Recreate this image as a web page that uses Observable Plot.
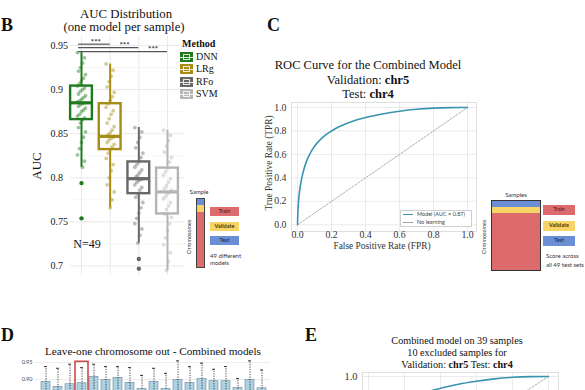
<!DOCTYPE html>
<html><head><meta charset="utf-8">
<script src="https://cdn.jsdelivr.net/npm/d3@7"></script>
<script src="https://cdn.jsdelivr.net/npm/@observablehq/plot@0.6"></script>
<style>
html,body{margin:0;padding:0;background:#fff;}
#root{position:relative;width:585px;height:390px;overflow:hidden;background:#fff;font-family:"Liberation Serif",serif;}
#root svg{position:absolute;left:0;top:0;background:transparent !important;overflow:hidden;}
.t{position:absolute;white-space:nowrap;line-height:1;}
.b{position:absolute;box-sizing:border-box;}
</style></head><body><div id="root"></div>
<script>
// ---------------- Panel B data ----------------
const methods = ["DNN","LRg","RFo","SVM"];
const methodColors = ["#1f7a1f","#a68c12","#686868","#b5b5b5"];
const boxLow = [0.812,0.766,0.726,0.695];
const boxQ1 = [0.866,0.832,0.782,0.759];
const boxMed = [0.885,0.847,0.799,0.784];
const boxQ3 = [0.904,0.884,0.818,0.811];
const boxHigh = [0.942,0.929,0.857,0.854];
const aucDNN = [0.942,0.936,0.93,0.925,0.921,0.917,0.913,0.91,0.907,0.904,0.902,0.9,0.898,0.895,0.893,0.891,0.889,0.887,0.886,0.885,0.884,0.883,0.881,0.879,0.877,0.875,0.872,0.87,0.868,0.866,0.862,0.857,0.852,0.846,0.84,0.833,0.826,0.819,0.812];
const aucLRg = [0.929,0.922,0.915,0.909,0.903,0.897,0.892,0.888,0.884,0.88,0.876,0.872,0.867,0.862,0.858,0.854,0.851,0.849,0.847,0.846,0.845,0.843,0.84,0.838,0.835,0.832,0.828,0.822,0.815,0.808,0.8,0.792,0.784,0.775,0.766];
const aucRFo = [0.857,0.852,0.846,0.84,0.834,0.828,0.823,0.818,0.815,0.812,0.809,0.806,0.803,0.801,0.799,0.798,0.797,0.795,0.792,0.789,0.786,0.782,0.778,0.772,0.766,0.76,0.754,0.748,0.742,0.735,0.726];
const aucSVM = [0.854,0.848,0.842,0.836,0.829,0.823,0.818,0.811,0.807,0.803,0.799,0.795,0.791,0.788,0.786,0.784,0.782,0.779,0.776,0.772,0.768,0.764,0.759,0.755,0.748,0.74,0.732,0.724,0.715,0.705,0.695];
const outlierMethod = ["DNN","DNN","RFo","RFo"];
const outlierAUC = [0.794,0.754,0.708,0.697];
const bTicks = [0.7,0.75,0.8,0.85,0.9,0.95];
const bMinor = [0.725,0.775,0.825,0.875,0.925];
const sigFrom = "DNN";
const sigTo = ["LRg","RFo","SVM"];
const sigY = [0.9515,0.9477,0.943];
const sigLabelPos = [1.5,2.5,3.5];
const sigLabel = ["***","***","***"];

// ---------------- Panel C / E data ----------------
const rocFPR = [0,0.002,0.005,0.01,0.02,0.03,0.05,0.075,0.1,0.13,0.16,0.2,0.25,0.3,0.35,0.4,0.5,0.6,0.7,0.8,0.9,1.0];
const rocTPR = [0,0.1,0.18,0.26,0.36,0.43,0.53,0.61,0.67,0.72,0.76,0.8,0.84,0.87,0.895,0.915,0.945,0.968,0.985,0.995,0.999,1.0];
const rocTPR_E = [0,0.09,0.16,0.24,0.33,0.4,0.5,0.58,0.64,0.69,0.74,0.78,0.82,0.855,0.88,0.9,0.935,0.96,0.98,0.993,0.999,1.0];
const noLearnX = [0,1];
const noLearnY = [0,1];
const rocTicks = [0,0.2,0.4,0.6,0.8,1.0];
const rocTicksShownE = [1.0];

// ---------------- Panel D data ----------------
const looChr = ["chr1","chr2","chr3","chr4","chr5","chr6","chr7","chr8","chr9","chr10","chr11","chr12","chr13","chr14","chr15","chr16","chr17","chr18","chr19"];
const looMean = [0.893,0.878,0.886,0.889,0.908,0.898,0.905,0.89,0.872,0.893,0.872,0.898,0.89,0.901,0.895,0.895,0.875,0.898,0.874];
const looTop  = [0.938,0.933,0.945,0.935,0.945,0.938,0.938,0.935,0.912,0.933,0.918,0.955,0.938,0.948,0.93,0.938,0.903,0.955,0.928];
const looLow  = [0.84,0.83,0.835,0.84,0.85,0.845,0.85,0.835,0.82,0.84,0.82,0.845,0.835,0.85,0.84,0.84,0.82,0.845,0.82];
const looHighlight = "chr4";
const looHighlightTop = 0.952;
const looTicks = [0.90,0.95];

// ---------------- build tables ----------------
const boxes = methods.map((m,k)=>({method:m,i:k+1,lo:boxLow[k],q1:boxQ1[k],med:boxMed[k],q3:boxQ3[k],hi:boxHigh[k]}));
const pts = [aucDNN,aucLRg,aucRFo,aucSVM].flatMap((arr,k)=>arr.map((v,j)=>({method:methods[k],i:k+1,j,auc:v})));
const outs = outlierAUC.map((v,k)=>({method:outlierMethod[k],i:methods.indexOf(outlierMethod[k])+1,auc:v}));
const sig = sigTo.map((m,k)=>({from:methods.indexOf(sigFrom)+1,to:methods.indexOf(m)+1,y:sigY[k],mid:sigLabelPos[k],label:sigLabel[k]}));
const roc = rocFPR.map((x,k)=>({x,y:rocTPR[k]}));
const rocE = rocFPR.map((x,k)=>({x,y:rocTPR_E[k]}));
const diag = noLearnX.map((x,k)=>({x,y:noLearnY[k]}));
const loo = looChr.map((c,k)=>({chr:c,mean:looMean[k],top:looTop[k],low:looLow[k]}));

const root = document.getElementById("root");
const SERIF = "'Liberation Serif', serif";
const SANS = "Lato, 'Open Sans', sans-serif";

// ---------------- Panel B plot ----------------
const plotB = Plot.plot({
  width:585,height:390,marginLeft:70,marginRight:400,marginTop:36,marginBottom:115,
  x:{domain:[1,4],range:[81,167],axis:null},
  y:{domain:[0.7,0.95],range:[265.5,45],axis:null},
  color:{domain:methods,range:methodColors},
  style:{fontFamily:SERIF,background:"transparent"},
  marks:[
    Plot.ruleY(bMinor,{stroke:"#f4f4f4",strokeWidth:0.8}),
    Plot.ruleY(bTicks,{stroke:"#e9e9e9",strokeWidth:1}),
    Plot.ruleX(boxes,{x:"i",stroke:"#e9e9e9",strokeWidth:1}),
    Plot.ruleX(boxes,{x:"i",y1:"lo",y2:"q1",stroke:"method",strokeWidth:2}),
    Plot.ruleX(boxes,{x:"i",y1:"q3",y2:"hi",stroke:"method",strokeWidth:2}),
    Plot.rect(boxes,{x1:d=>d.i-0.38,x2:d=>d.i+0.38,y1:"q1",y2:"q3",fill:"white",fillOpacity:0.6,stroke:"method",strokeWidth:2.4}),
    Plot.dot(pts,{x:d=>d.i+(((d.j*7)%9)-4)*0.035,y:"auc",fill:"method",r:1.9,fillOpacity:0.45,stroke:null}),
    Plot.ruleY(boxes,{y:"med",x1:d=>d.i-0.38,x2:d=>d.i+0.38,stroke:"method",strokeWidth:3.2}),
    Plot.dot(outs,{x:"i",y:"auc",fill:"method",r:2.2}),
    Plot.ruleY(sig,{y:"y",x1:d=>d.from-0.1,x2:"to",stroke:"#555",strokeWidth:1.2}),
    Plot.text(sig,{x:"mid",y:"y",text:"label",dy:-2,fontSize:8,fontWeight:"bold",fill:"#333",fontFamily:SANS}),
    Plot.text(bTicks,{y:d=>d,text:d=>String(d),frameAnchor:"left",textAnchor:"start",dx:-20,fontSize:10,fill:"#222",fontFamily:SERIF})
  ]
});
root.appendChild(plotB);

// ---------------- Panel C plot ----------------
const plotC = Plot.plot({
  width:585,height:390,marginLeft:291,marginRight:109,marginTop:102,marginBottom:159,
  x:{domain:[0,1],range:[297,467],axis:null},
  y:{domain:[0,1],range:[224.3,107],axis:null},
  style:{fontFamily:SERIF,background:"transparent"},
  marks:[
    Plot.ruleX(rocTicks,{stroke:"#e6e6e6",strokeWidth:0.8}),
    Plot.ruleY(rocTicks,{stroke:"#e6e6e6",strokeWidth:0.8}),
    Plot.frame({stroke:"#d8d8d8",strokeWidth:0.8}),
    Plot.line(diag,{x:"x",y:"y",stroke:"#9a9a9a",strokeWidth:0.8,strokeDasharray:"2,1.5"}),
    Plot.line(roc,{x:"x",y:"y",stroke:"#3a93b0",strokeWidth:1.6,curve:"monotone-x"}),
    Plot.text(rocTicks,{x:d=>d,text:d=>d.toFixed(1),frameAnchor:"bottom",dy:6,fontSize:9.8,fill:"#333",fontFamily:SERIF}),
    Plot.text(rocTicks,{y:d=>d,text:d=>d.toFixed(1),frameAnchor:"left",textAnchor:"end",dx:-5,fontSize:9.8,fill:"#333",fontFamily:SERIF})
  ]
});
root.appendChild(plotC);

// ---------------- Panel D plot ----------------
const plotD = Plot.plot({
  width:585,height:520,marginLeft:35,marginRight:315,marginTop:359,marginBottom:20,
  x:{type:"band",domain:looChr,range:[36,270],paddingInner:0.25,paddingOuter:0.1,axis:null},
  y:{domain:[0.6,0.95],range:[481,362],axis:null},
  style:{fontFamily:SERIF,background:"transparent"},
  marks:[
    Plot.ruleY(looTicks,{stroke:"#e4e4e4",strokeWidth:0.7}),
    Plot.barY(loo,{x:"chr",y:"mean",fill:"#acd2e3",stroke:"#6c8896",strokeWidth:0.6}),
    Plot.ruleX(loo,{x:"chr",y1:"low",y2:"top",stroke:"#222",strokeWidth:0.8,strokeDasharray:"1.3,1.2"}),
    Plot.tickY(loo,{x:"chr",y:"top",stroke:"#222",strokeWidth:0.9,insetLeft:3,insetRight:3}),
    Plot.barY([looHighlight],{x:d=>d,y1:0.6,y2:looHighlightTop,fill:"none",stroke:"#c94b4b",strokeWidth:1.6,insetLeft:-2,insetRight:-2}),
    Plot.text(looTicks,{y:d=>d,text:d=>d.toFixed(2),frameAnchor:"left",textAnchor:"end",dx:-3,fontSize:5.5,fill:"#444",fontFamily:SANS})
  ]
});
root.appendChild(plotD);

// ---------------- Panel E plot ----------------
const plotE = Plot.plot({
  width:585,height:520,marginLeft:362,marginRight:27,marginTop:372,marginBottom:20,
  x:{domain:[0,1],range:[368,548],axis:null},
  y:{domain:[0,1],range:[494,376],axis:null},
  style:{fontFamily:SERIF,background:"transparent"},
  marks:[
    Plot.ruleX(rocTicks,{stroke:"#e6e6e6",strokeWidth:0.8}),
    Plot.ruleY(rocTicks,{stroke:"#e6e6e6",strokeWidth:0.8}),
    Plot.frame({stroke:"#d8d8d8",strokeWidth:0.8}),
    Plot.line(diag,{x:"x",y:"y",stroke:"#9a9a9a",strokeWidth:0.8,strokeDasharray:"2,1.5"}),
    Plot.line(rocE,{x:"x",y:"y",stroke:"#3a93b0",strokeWidth:1.6,curve:"monotone-x"}),
    Plot.text(rocTicksShownE,{y:d=>d,text:d=>d.toFixed(1),frameAnchor:"left",textAnchor:"end",dx:-5,fontSize:10.5,fill:"#333",fontFamily:SERIF})
  ]
});
root.appendChild(plotE);

// ---------------- HTML text & diagrams ----------------
function T(html,x,y,o={}){
  const d=document.createElement("div");d.className="t";d.innerHTML=html;
  Object.assign(d.style,{left:x+"px",top:y+"px",fontSize:(o.size||12)+"px",fontFamily:o.font||SERIF,
    fontWeight:o.bold?"bold":"normal",color:o.color||"#111",
    transform:`translate(${o.ax!=null?o.ax:-50}%,-50%)`});
  if(o.rot){d.style.transform=`translate(-50%,-50%) rotate(${o.rot}deg)`;}
  root.appendChild(d);return d;
}
function R(x,y,w,h,fill,border){
  const d=document.createElement("div");d.className="b";
  Object.assign(d.style,{left:x+"px",top:y+"px",width:w+"px",height:h+"px",background:fill||"transparent",border:border||"none"});
  root.appendChild(d);return d;
}

// Panel letters
T("B",1,25,{size:18,bold:true,ax:0});
T("C",267,25,{size:18,bold:true,ax:0});
T("D",1,335,{size:18,bold:true,ax:0});
T("E",305,335,{size:18,bold:true,ax:0});

// B titles
T("AUC Distribution",126,14,{size:12.8});
T("(one model per sample)",124,27,{size:12.8});
T("AUC",36,166,{size:13});
document.querySelectorAll(".t")[document.querySelectorAll(".t").length-1].style.transform="translate(-50%,-50%) rotate(-90deg)";
T("N=49",87,244,{size:12});
// B legend
T("Method",182,44,{size:10,bold:true,ax:0});
methods.forEach((m,k)=>{
  const cy=[57,69,82,94][k];
  R(180,cy-5,13,10,methodColors[k],"none");
  R(183,cy-3,7,6,"transparent","1px solid rgba(255,255,255,0.85)");
  R(180,cy-0.5,13,1,"rgba(255,255,255,0.85)");
  T(m,196,cy,{size:10,ax:0});
});
// B diagram
T("Sample",199,192,{size:6,font:SANS,color:"#333"});
R(196,198,9,70,"#dd6b6b","1px solid #444");
R(197,199,7,6,"#6a8fd6");
R(197,205,7,7,"#f6d466");
T("Chromosomes",190,237,{size:5.5,font:SANS,rot:-90,color:"#333"});
R(210,207,29,9,"#dd6b6b");T("Train",224.5,211.5,{size:5.5,font:SANS,color:"#4a1414"});
R(210,222,29,9,"#f6d466");T("Validate",224.5,226.5,{size:5.5,font:SANS,color:"#4a3a00",bold:true});
R(210,236,29,9,"#6a8fd6");T("Test",224.5,240.5,{size:5.5,font:SANS,color:"#12224a"});
T("49 different",210,256,{size:6,font:SANS,ax:0,color:"#333"});
T("models",210,263,{size:6,font:SANS,ax:0,color:"#333"});

// C titles
T("ROC Curve for the Combined Model",368,65,{size:12.5});
T("Validation: <b>chr5</b>",368,80,{size:12.5});
T("Test: <b>chr4</b>",368,94,{size:12.5});
T("False Positive Rate (FPR)",382,247,{size:9.4,color:"#333"});
T("True Positive Rate (TPR)",270,163,{size:9.4,rot:-90,color:"#333"});
// C legend
R(400,210,72,17,"rgba(255,255,255,0.9)","0.8px solid #d0d0d0");
R(403,214,10,1.3,"#3a93b0");
T("Model (AUC = 0.87)",417,214.5,{size:5.5,font:SANS,ax:0,color:"#444"});
R(403,222,10,0,"transparent","none").style.borderTop="1px dashed #999";
T("No learning",417,222.5,{size:5.5,font:SANS,ax:0,color:"#444"});
// C diagram
T("Samples",516,195,{size:6,font:SANS,color:"#333"});
R(491,200,50,71,"#dd6b6b","1px solid #333");
R(492,201,48,6,"#6a8fd6");
R(492,207,48,6,"#f6d466");
T("Chromosomes",485,237,{size:5.5,font:SANS,rot:-90,color:"#333"});
R(543,205,32,10,"#dd6b6b");T("Train",559,210,{size:5.5,font:SANS,color:"#4a1414"});
R(543,221,32,10,"#f6d466");T("Validate",559,226,{size:5.5,font:SANS,color:"#4a3a00",bold:true});
R(543,236,32,10,"#6a8fd6");T("Test",559,241,{size:5.5,font:SANS,color:"#12224a"});
T("Score across",546,256,{size:6,font:SANS,ax:0,color:"#333"});
T("all 49 test sets",546,265,{size:6,font:SANS,ax:0,color:"#333"});

// D title
T("Leave-one chromosome out - Combined models",153,352,{size:11.2});

// E titles
T("Combined model on 39 samples",457,341,{size:10.2});
T("10 excluded samples for",457,353,{size:10.2});
T("Validation: <b>chr5</b> Test: <b>chr4</b>",457,365,{size:10.2});
</script></body></html>
